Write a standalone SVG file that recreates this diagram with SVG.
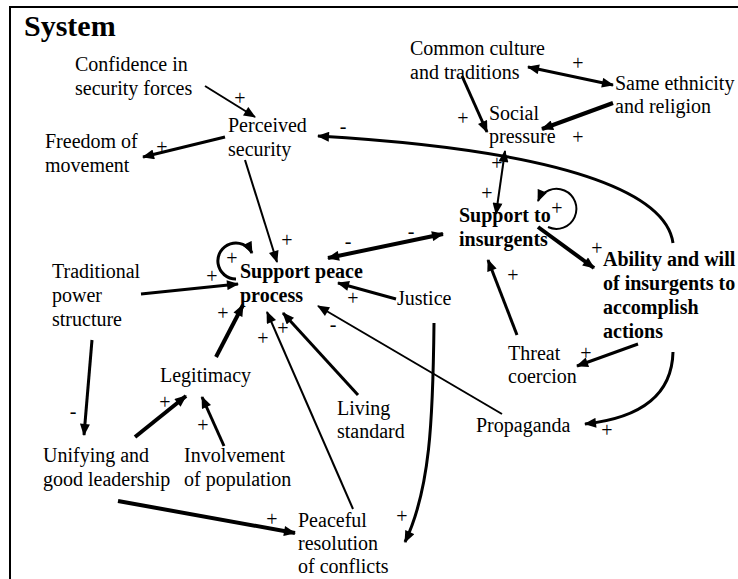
<svg xmlns="http://www.w3.org/2000/svg" width="738" height="579" viewBox="0 0 738 579">
<style>
text{font-family:"Liberation Serif","DejaVu Serif","Noto Serif",serif;font-size:20px;fill:#000}
.b{font-weight:bold}
.t{font-size:30px;font-weight:bold}
.s{text-anchor:middle}
.c{fill:none;stroke:#000;stroke-width:2}
.k{stroke-width:3}
.w{stroke-width:4}
</style>
<defs>
<marker id="a" viewBox="0 0 12 10" markerWidth="13" markerHeight="10" refX="11" refY="5" orient="auto-start-reverse" markerUnits="userSpaceOnUse"><path d="M0,0 L12,5 L0,10 z" fill="#000"/></marker>
</defs>
<rect width="738" height="579" fill="#fff"/>
<path d="M10,579 L10,7 L738,7" fill="none" stroke="#000" stroke-width="2"/>
<text class="t" x="24" y="36" font-family="Liberation Serif, serif">System</text>

<g id="connectors">
<line class="c" x1="205" y1="86" x2="255" y2="117" marker-end="url(#a)"/>
<line class="c k" x1="225" y1="137" x2="143" y2="157" marker-end="url(#a)"/>
<path class="c k" d="M673,243 C667,200 590,152 318,136" marker-end="url(#a)"/>
<line class="c" x1="245" y1="160" x2="277" y2="262" marker-end="url(#a)"/>
<path class="c k" d="M236,279 A18,18 0 1 1 252,253" marker-end="url(#a)"/>
<line class="c k" x1="141" y1="294" x2="238" y2="284" marker-end="url(#a)"/>
<line class="c w" x1="328" y1="258" x2="443" y2="234" marker-start="url(#a)" marker-end="url(#a)"/>
<line class="c k" x1="396" y1="299" x2="338" y2="283" marker-end="url(#a)"/>
<line class="c w" x1="216" y1="357" x2="243" y2="305" marker-end="url(#a)"/>
<line class="c" x1="353" y1="509" x2="267" y2="312" marker-end="url(#a)"/>
<line class="c k" x1="358" y1="395" x2="283" y2="313" marker-end="url(#a)"/>
<line class="c" x1="502" y1="414" x2="318" y2="306" marker-end="url(#a)"/>
<path class="c k" d="M434,323 C433,420 430,490 405,542" marker-end="url(#a)"/>
<line class="c k" x1="92" y1="340" x2="84" y2="435" marker-end="url(#a)"/>
<line class="c w" x1="135" y1="437" x2="186" y2="396" marker-end="url(#a)"/>
<line class="c k" x1="224" y1="446" x2="202" y2="397" marker-end="url(#a)"/>
<line class="c w" x1="118" y1="501" x2="295" y2="533" marker-end="url(#a)"/>
<line class="c k" x1="528" y1="67" x2="613" y2="85" marker-start="url(#a)" marker-end="url(#a)"/>
<line class="c k" x1="462" y1="76" x2="487" y2="132" marker-end="url(#a)"/>
<line class="c w" x1="613" y1="103" x2="542" y2="129" marker-end="url(#a)"/>
<line class="c" x1="505" y1="151" x2="496" y2="214" marker-start="url(#a)" marker-end="url(#a)"/>
<path class="c" d="M548,227 A20,20 0 1 0 538,201" marker-end="url(#a)"/>
<line class="c w" x1="538" y1="227" x2="594" y2="268" marker-end="url(#a)"/>
<line class="c k" x1="517" y1="335" x2="488" y2="260" marker-end="url(#a)"/>
<line class="c k" x1="638" y1="344" x2="577" y2="366" marker-end="url(#a)"/>
<path class="c k" d="M673,352 C672,395 640,418 585,424" marker-end="url(#a)"/>
</g>

<g id="polarity">
<text class="s" x="240" y="105">+</text>
<text class="s" x="162" y="154">+</text>
<text class="s" x="343" y="133">-</text>
<text class="s" x="287" y="247">+</text>
<text class="s" x="232" y="265">+</text>
<text class="s" x="212" y="283">+</text>
<text class="s" x="348" y="248">-</text>
<text class="s" x="411" y="238">-</text>
<text class="s" x="353" y="305">+</text>
<text class="s" x="223" y="320">+</text>
<text class="s" x="263" y="345">+</text>
<text class="s" x="283" y="335">+</text>
<text class="s" x="333" y="331">-</text>
<text class="s" x="402" y="523">+</text>
<text class="s" x="73" y="418">-</text>
<text class="s" x="165" y="409">+</text>
<text class="s" x="203" y="432">+</text>
<text class="s" x="272" y="526">+</text>
<text class="s" x="578" y="70">+</text>
<text class="s" x="463" y="125">+</text>
<text class="s" x="578" y="144">+</text>
<text class="s" x="497" y="170">+</text>
<text class="s" x="487" y="200">+</text>
<text class="s" x="557" y="215">+</text>
<text class="s" x="597" y="255">+</text>
<text class="s" x="513" y="282">+</text>
<text class="s" x="586" y="360">+</text>
<text class="s" x="607" y="437">+</text>
</g>

<g id="confidence"><text x="75" y="71">Confidence in</text><text x="75" y="95">security forces</text></g>
<g id="perceived"><text x="228" y="132">Perceived</text><text x="228" y="156">security</text></g>
<g id="freedom"><text x="45" y="148">Freedom of</text><text x="45" y="172">movement</text></g>
<g id="culture"><text x="410" y="55">Common culture</text><text x="410" y="79">and traditions</text></g>
<g id="ethnicity"><text x="615" y="90">Same ethnicity</text><text x="615" y="113">and religion</text></g>
<g id="social"><text x="489" y="120">Social</text><text x="489" y="143">pressure</text></g>
<g id="insurgents"><text class="b" x="459" y="222">Support to</text><text class="b" x="459" y="246">insurgents</text></g>
<g id="ability"><text class="b" x="603" y="266">Ability and will</text><text class="b" x="603" y="290">of insurgents to</text><text class="b" x="603" y="314">accomplish</text><text class="b" x="603" y="338">actions</text></g>
<g id="peace"><text class="b" x="240" y="278">Support peace</text><text class="b" x="240" y="302">process</text></g>
<g id="traditional"><text x="52" y="278">Traditional</text><text x="52" y="302">power</text><text x="52" y="326">structure</text></g>
<g id="justice"><text x="397" y="305">Justice</text></g>
<g id="threat"><text x="508" y="360">Threat</text><text x="508" y="383">coercion</text></g>
<g id="legitimacy"><text x="160" y="382">Legitimacy</text></g>
<g id="living"><text x="337" y="415">Living</text><text x="337" y="438">standard</text></g>
<g id="propaganda"><text x="476" y="432">Propaganda</text></g>
<g id="unifying"><text x="43" y="462">Unifying and</text><text x="43" y="486">good leadership</text></g>
<g id="involvement"><text x="184" y="462">Involvement</text><text x="184" y="486">of population</text></g>
<g id="peaceful"><text x="298" y="527">Peaceful</text><text x="298" y="550">resolution</text><text x="298" y="573">of conflicts</text></g>
</svg>
